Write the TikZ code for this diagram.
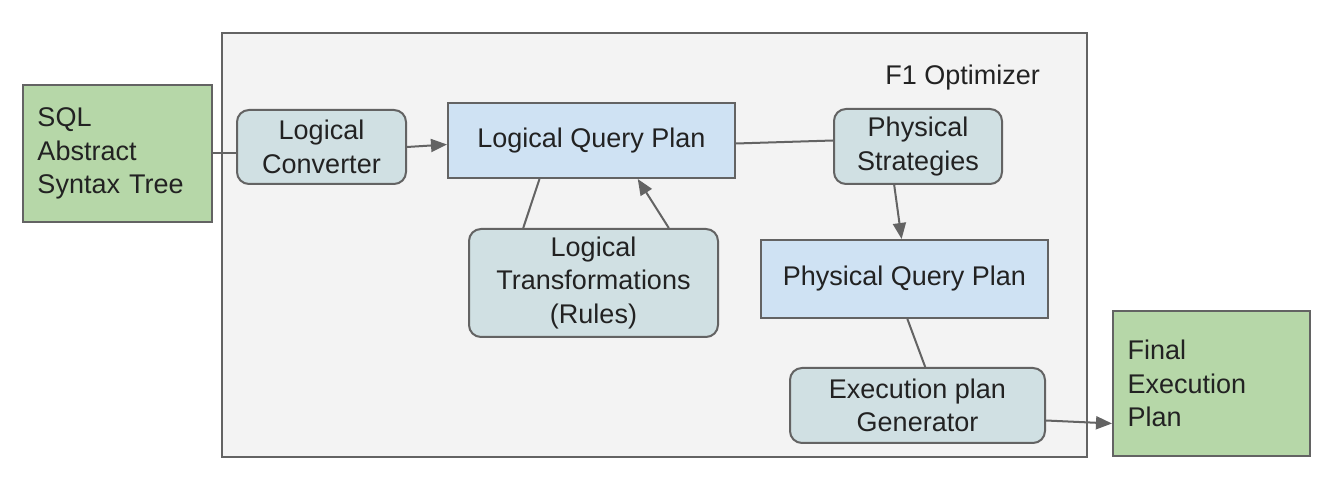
\documentclass[tikz,border=0pt]{standalone}
\usepackage{fontspec}
\setmainfont{Liberation Sans}
\usetikzlibrary{calc}
\usetikzlibrary{arrows.meta}
\definecolor{framefill}{HTML}{F3F3F3}
\definecolor{edge}{HTML}{636363}
\definecolor{iofill}{HTML}{B6D7A8}
\definecolor{planfill}{HTML}{CFE2F3}
\definecolor{stagefill}{HTML}{D0E0E3}
\definecolor{ink}{HTML}{222222}

\begin{document}
\begin{tikzpicture}
			[x=0.5pt,y=-0.5pt,
			 font=\fontsize{13.5}{16.8}\selectfont,
			 box/.style={draw=edge,line width=1pt,text=ink,inner sep=0pt,align=center},
			 stage/.style={box,fill=stagefill,rounded corners=6pt},
			 plan/.style={box,fill=planfill},
			 io/.style={box,fill=iofill,align=left},
			 link/.style={edge,line width=1pt},
			 arrow/.style={link,-{Triangle[length=8pt,width=6.5pt]}}]

			\useasboundingbox (0,0) rectangle (1340,486);
			\draw[fill=framefill,draw=edge,line width=1pt] (222,33) rectangle (1087,457);
			\node[anchor=east,text=ink] (title) at (1047,78) {F1 Optimizer};

			\node[io,minimum width=94.5pt,minimum height=68.5pt,text width=80pt] (sql) at (117.5,153.5) {SQL\\Abstract\\Syntax Tree};
			\node[stage,minimum width=84.5pt,minimum height=37pt] (conv) at (321.5,147) {Logical\\Converter};
			\node[plan,minimum width=143.5pt,minimum height=37.5pt] (lqp) at (591.5,140.5) {Logical Query Plan};
			\node[stage,minimum width=124.5pt,minimum height=54pt] (rules) at (593.5,283) {Logical\\Transformations\\(Rules)};
			\node[stage,minimum width=84pt,minimum height=37.5pt] (strat) at (918,146.5) {Physical\\Strategies};
			\node[plan,minimum width=143.5pt,minimum height=39pt] (pqp) at (904.5,279) {Physical Query Plan};
			\node[stage,minimum width=127.5pt,minimum height=37.5pt] (gen) at (917.5,405.5) {Execution plan\\Generator};
			\node[io,minimum width=98.5pt,minimum height=72.5pt,text width=84pt] (final) at (1211.5,383.5) {Final\\Execution\\Plan};

			\draw[link] (sql.east) -- (sql.east -| conv.west);
			\draw[arrow] (conv.east) -- ($(lqp.west)+(0,4)$);
			\draw[link] ($(lqp.east)+(0,3)$) -- ($(strat.west)+(0,-6)$);
			\draw[link] ($(lqp.south west)!0.32!(lqp.south east)$) -- ($(rules.north west)!0.22!(rules.north east)$);
			\draw[arrow] ($(rules.north west)!0.8!(rules.north east)$) -- ($(lqp.south west)!0.66!(lqp.south east)$);
			\draw[arrow] ($(strat.south west)!0.36!(strat.south east)$) -- ($(pqp.north west)!0.49!(pqp.north east)$);
			\draw[link] ($(pqp.south west)!0.51!(pqp.south east)$) -- ($(gen.north west)!0.53!(gen.north east)$);
			\draw[arrow] ($(gen.east)+(0,15)$) -- ($(final.west)+(0,40)$);
		\end{tikzpicture}
\end{document}
